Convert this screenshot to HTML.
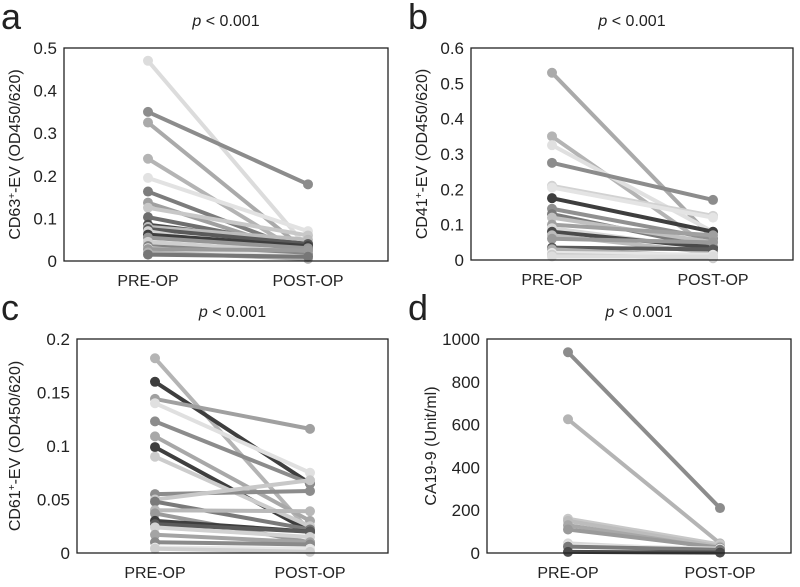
<!DOCTYPE html>
<html><head><meta charset="utf-8"><style>
body{margin:0;background:#fff;width:800px;height:582px;overflow:hidden}
svg{font-family:"Liberation Sans",Arial,sans-serif}
</style></head><body>
<svg id="chart" width="800" height="582"></svg>
<script>
const categories = ["PRE-OP","POST-OP"];
const aPre  = [0.47,0.35,0.325,0.24,0.195,0.163,0.137,0.125,0.103,0.085,0.08,0.075,0.07,0.062,0.055,0.045,0.035,0.03,0.028,0.02,0.015];
const aPost = [0.03,0.18,0.02,0.01,0.07,0.02,0.015,0.06,0.03,0.04,0.05,0.04,0.01,0.035,0.03,0.02,0.015,0.01,0.025,0.005,0.01];
const bPre  = [0.53,0.35,0.325,0.275,0.21,0.205,0.175,0.145,0.13,0.12,0.1,0.09,0.08,0.07,0.06,0.035,0.03,0.02,0.015,0.01];
const bPost = [0.06,0.03,0.08,0.17,0.125,0.12,0.08,0.06,0.035,0.05,0.07,0.03,0.035,0.02,0.05,0.03,0.01,0.015,0.005,0.01];
const cPre  = [0.182,0.16,0.144,0.14,0.123,0.109,0.099,0.09,0.055,0.05,0.048,0.04,0.037,0.03,0.027,0.024,0.017,0.01,0.005,0.004];
const cPost = [0.02,0.065,0.116,0.075,0.065,0.03,0.02,0.025,0.058,0.068,0.022,0.039,0.01,0.02,0.02,0.015,0.01,0.008,0.004,0.001];
const dPre  = [938,625,160,150,130,110,45,35,30,5];
const dPost = [210,45,40,30,20,25,10,20,15,2];
const aTicks=[0,0.1,0.2,0.3,0.4,0.5], bTicks=[0,0.1,0.2,0.3,0.4,0.5,0.6], cTicks=[0,0.05,0.1,0.15,0.2], dTicks=[0,200,400,600,800,1000];
const aCols=["#dcdcdc","#8c8c8c","#aaaaaa","#b4b4b4","#e2e2e2","#7c7c7c","#a0a0a0","#c8c8c8","#6e6e6e","#4a4a4a","#bcbcbc","#5a5a5a","#d2d2d2","#3e3e3e","#969696","#cfcfcf","#858585","#e6e6e6","#9a9a9a","#b0b0b0","#777777"];
const bCols=["#aaaaaa","#b4b4b4","#e0e0e0","#8c8c8c","#d2d2d2","#e4e4e4","#3e3e3e","#909090","#7a7a7a","#c0c0c0","#a0a0a0","#d8d8d8","#4a4a4a","#bcbcbc","#9a9a9a","#5a5a5a","#b0b0b0","#e6e6e6","#cccccc","#dddddd"];
const cCols=["#b4b4b4","#3e3e3e","#a0a0a0","#e0e0e0","#8c8c8c","#a8a8a8","#3e3e3e","#cccccc","#8c8c8c","#c8c8c8","#7a7a7a","#b8b8b8","#9a9a9a","#3e3e3e","#5a5a5a","#d2d2d2","#a4a4a4","#8a8a8a","#e6e6e6","#cfcfcf"];
const dCols=["#8c8c8c","#b4b4b4","#c8c8c8","#bcbcbc","#a8a8a8","#9a9a9a","#d8d8d8","#e4e4e4","#7a7a7a","#4a4a4a"];
const svg=document.getElementById('chart');
const NS="http://www.w3.org/2000/svg";
function mk(tag,attrs,parent){const e=document.createElementNS(NS,tag);for(const k in attrs)e.setAttribute(k,attrs[k]);(parent||svg).appendChild(e);return e;}
function panel(letter,box,ticks,pre,post,ylabel,xs,cols){
  const g=mk('g',{});
  
  
  const max=ticks[ticks.length-1];
  const y=v=>box.b-(v/max)*(box.b-box.t);
  const L=mk('text',{x:box.lx,y:box.t-19,'font-size':36,fill:'#222'},g);L.textContent=letter;
  
  
  const pT=mk('text',{x:(box.l+box.r)/2,y:box.t-22,'font-size':16,'text-anchor':'middle',fill:'#222'},g);
  pT.innerHTML='<tspan font-style="italic">p</tspan> &lt; 0.001';
  
  
  ticks.forEach(t=>{
    const tx=mk('text',{x:box.l-7,y:y(t)+6,'font-size':17,'text-anchor':'end',fill:'#222'},g);tx.textContent=t;
    
    
  });
  const yl=mk('text',{transform:`translate(${box.ylx},${(box.t+box.b)/2}) rotate(-90)`,'font-size':16,'text-anchor':'middle',fill:'#222'},g);
  yl.innerHTML=ylabel;
  
  
  categories.forEach((c,i)=>{
    const tx=mk('text',{x:xs[i],y:box.b+25,'font-size':16,'text-anchor':'middle',fill:'#222'},g);tx.textContent=c;
    
    
  });
  pre.forEach((v,i)=>{
    const col=cols[i%cols.length];
    const ln=mk('line',{x1:xs[0],y1:y(v),x2:xs[1],y2:y(post[i]),stroke:col,'stroke-width':4},g);
    
    
    [[xs[0],v],[xs[1],post[i]]].forEach(p=>{
      const c=mk('circle',{cx:p[0],cy:y(p[1]),r:5,fill:col},g);
      
      
    });
  });
  const fr=mk('rect',{x:box.l,y:box.t,width:box.r-box.l,height:box.b-box.t,fill:'none',stroke:'#222','stroke-width':1.3},g);
  
  
}
panel('a',{l:64,r:388,t:48,b:261,lx:1,ylx:20},aTicks,aPre,aPost,'CD63<tspan baseline-shift="super" font-size="10">+</tspan>-EV (OD450/620)',[148,308],aCols);
panel('b',{l:471,r:793,t:48,b:260,lx:408,ylx:427},bTicks,bPre,bPost,'CD41<tspan baseline-shift="super" font-size="10">+</tspan>-EV (OD450/620)',[552,713],bCols);
panel('c',{l:77,r:388,t:339,b:553,lx:1,ylx:20},cTicks,cPre,cPost,'CD61<tspan baseline-shift="super" font-size="10">+</tspan>-EV (OD450/620)',[155,310],cCols);
panel('d',{l:487,r:791,t:339,b:553,lx:408,ylx:436},dTicks,dPre,dPost,'CA19-9 (Unit/ml)',[568,720],dCols);
</script>
</body></html>
